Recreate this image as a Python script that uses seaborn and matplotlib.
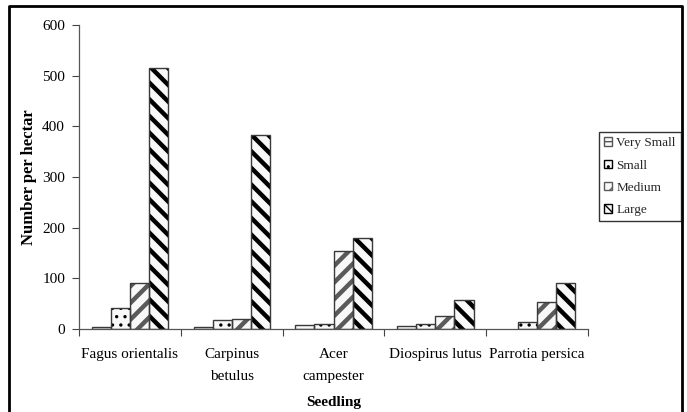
import matplotlib
matplotlib.use("Agg")
import matplotlib.pyplot as plt
from matplotlib.patches import Rectangle
from matplotlib.lines import Line2D
import seaborn as sns
import pandas as pd

species = ["Fagus orientalis", "Carpinus\nbetulus", "Acer\ncampester",
           "Diospirus lutus", "Parrotia persica"]
sizes = ["Very Small", "Small", "Medium", "Large"]
very_small = [4, 4, 7, 6, 0]
small = [42, 17, 10, 10, 13]
medium = [90, 19, 153, 25, 53]
large = [515, 382, 180, 58, 90]

values = {"Very Small": very_small, "Small": small, "Medium": medium, "Large": large}
rows = [(sp, sz, values[sz][i]) for sz in sizes for i, sp in enumerate(species)]
df = pd.DataFrame(rows, columns=["Seedling", "Size", "Count"])

sns.set_theme(style="white")
plt.rcParams["font.family"] = ["Liberation Serif", "DejaVu Serif"]

hatches = {"Very Small": "---", "Small": "..", "Medium": "//", "Large": "\\\\"}
hatch_colors = {"Very Small": "#555555", "Small": "black",
                "Medium": "#5a5a5a", "Large": "black"}
hatch_widths = {"Very Small": 1.0, "Small": 1.2, "Medium": 3.2, "Large": 3.2}

fig = plt.figure(figsize=(6.87, 4.12), dpi=100)
ax = fig.add_axes([0.115, 0.2015, 0.741, 0.7378])

sns.barplot(data=df, x="Seedling", y="Count", hue="Size", hue_order=sizes,
            palette=["#f8f8f8"] * 4, width=0.75, gap=0, saturation=1,
            ax=ax, legend=True, errorbar=None)


def style_patch(p, sz):
    p.set_hatch(hatches[sz])
    p.set_edgecolor(hatch_colors[sz])
    if hasattr(p, "set_hatch_linewidth"):
        p.set_hatch_linewidth(hatch_widths[sz])


n = len(species)
for j, sz in enumerate(sizes):
    for k in range(n):
        p = ax.patches[j * n + k]
        style_patch(p, sz)
        p.set_linewidth(0)
        x, y = p.get_xy()
        if p.get_height() > 0:
            ax.add_patch(Rectangle((x, y), p.get_width(), p.get_height(),
                                   fill=False, edgecolor="#3a3a3a", linewidth=1.0))

ax.set_ylim(0, 600)
ax.set_yticks(range(0, 601, 100))
ax.set_xlim(-0.5, n - 0.5)
ax.set_xticks(range(n))
ax.set_xticklabels(species, linespacing=1.95)
ax.set_xticks([i + 0.5 for i in range(-1, n)], minor=True)
ax.tick_params(axis="x", which="major", length=0, labelsize=11, pad=13.5)
ax.tick_params(axis="x", which="minor", length=5, width=0.8, color="#444444",
               direction="out", bottom=True)
ax.tick_params(axis="y", length=5, width=0.8, color="#444444", direction="out",
               left=True, labelsize=11, pad=5)
for lab in ax.get_xticklabels() + ax.get_yticklabels():
    lab.set_color("black")

for s in ["top", "right"]:
    ax.spines[s].set_visible(False)
for s in ["left", "bottom"]:
    ax.spines[s].set_color("#555555")
    ax.spines[s].set_linewidth(0.9)

ax.set_xlabel("Seedling", fontsize=11, fontweight="bold", color="black", labelpad=9)
ax.set_ylabel("Number per hectar", fontsize=12, fontweight="bold", color="black",
              labelpad=4)

handles, labels = ax.get_legend_handles_labels()
for h, sz in zip(handles, sizes):
    style_patch(h, sz)
ax.get_legend().remove()
leg = fig.legend(handles, labels, loc="upper left",
                 bbox_to_anchor=(599 / 687, 1 - 132 / 412), borderaxespad=0,
                 frameon=True, fancybox=False, fontsize=9.5, handlelength=0.6,
                 handleheight=0.6, handletextpad=0.3, labelspacing=0.78,
                 borderpad=0.4)
leg.get_frame().set_edgecolor("black")
leg.get_frame().set_linewidth(1.0)

# outer frame around the chart (open at the bottom)
frame_x = [9 / 687, 9 / 687, 682 / 687, 682 / 687]
frame_y = [-0.05, 1 - 6 / 412, 1 - 6 / 412, -0.05]
fig.add_artist(Line2D(frame_x, frame_y, transform=fig.transFigure,
                      color="black", linewidth=2.0))

fig.savefig("out.png", dpi=100)
